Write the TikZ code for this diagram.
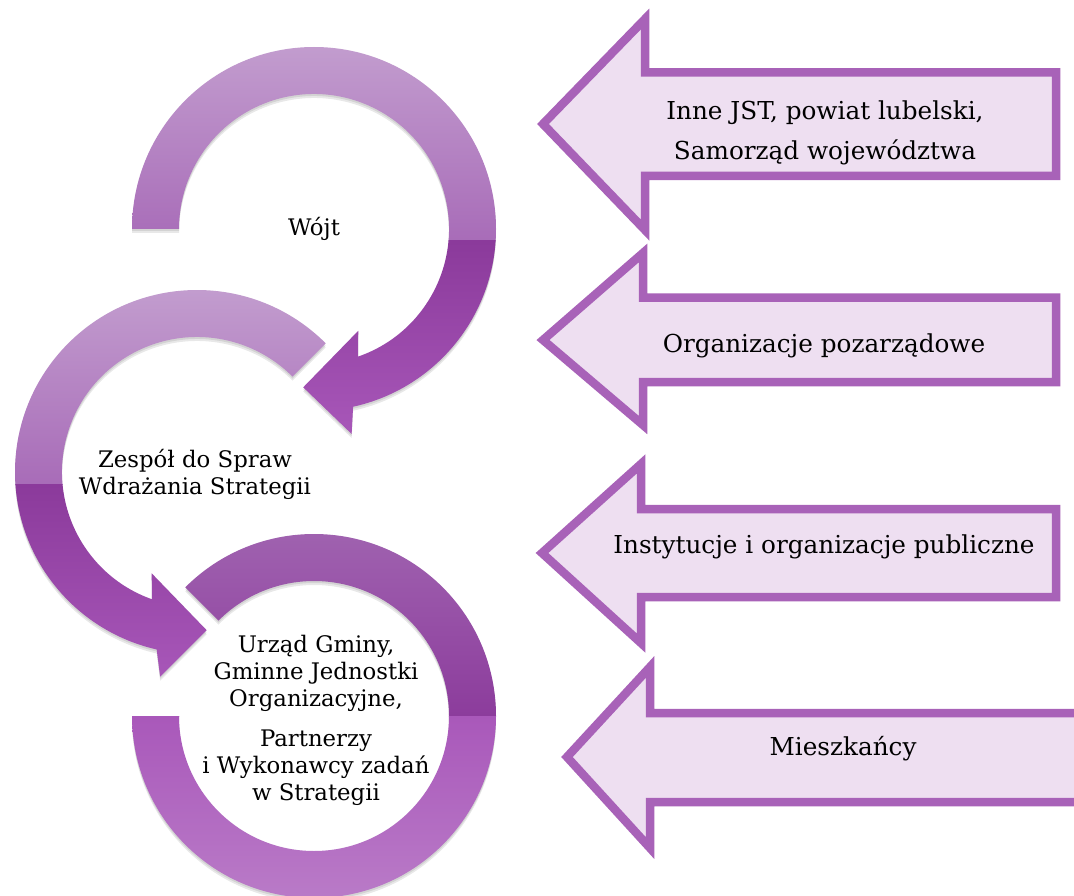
\documentclass[tikz,border=0pt]{standalone}
\usepackage{fontspec}
\setmainfont{DejaVu Serif}
\begin{document}
\begin{tikzpicture}[x=1pt,y=1pt]
\definecolor{topA}{HTML}{C39ECF}
\definecolor{topB}{HTML}{A86CB8}
\definecolor{lowA}{HTML}{8B3A9B}
\definecolor{lowB}{HTML}{A958BA}
\definecolor{botA}{HTML}{A063B0}
\definecolor{botB}{HTML}{8C3C9C}
\definecolor{botC}{HTML}{A958BA}
\definecolor{botD}{HTML}{BA7CC8}
\definecolor{boxfill}{HTML}{EEDFF1}
\definecolor{boxline}{HTML}{A862B8}
\tikzset{
  sidearrow/.style={fill=boxfill, draw=boxline, line width=8.5pt, line join=miter, miter limit=10},
  ringtext/.style={font=\fontsize{22.8}{27}\selectfont, align=center, inner sep=0pt, anchor=base},
  arrowtext/.style={font=\fontsize{24.7}{40}\selectfont, align=center, inner sep=0pt, anchor=base},
  ringshadow/.style={fill=black, opacity=0.09},
}
\useasboundingbox (0,0) rectangle (1074,-896);
\clip (0,0) rectangle (1074,-896);
\fill[white] (0,0) rectangle (1074,-896);

% ring outlines (relative to each ring's centre)
\def\ringtop{(180:182) arc[start angle=180, end angle=-77.6, radius=182] -- (-79.6:208.4) -- (-93.9:158.7) -- (-66.5:111) -- (-70.9:135) arc[start angle=-70.9, end angle=180, radius=135] -- cycle}
\def\ringmid{(45:182) arc[start angle=45, end angle=257.2, radius=182] -- (259.8:208) -- (273.5:158.5) -- (245.9:111) -- (250.5:135) arc[start angle=250.5, end angle=45, radius=135] -- cycle}
\def\ringbot{(135:182) arc[start angle=135, end angle=-180, radius=182] -- (180:135) arc[start angle=-180, end angle=135, radius=135] -- cycle}

% top ring (Wojt)
\begin{scope}[shift={(314,-229)}]
  \fill[ringshadow, shift={(0,-2)}] \ringtop;
  \fill[ringshadow, shift={(0,-4)}] \ringtop;
  \begin{scope}
    \clip \ringtop;
    \shade[top color=topA, bottom color=topB] (-220,190) rectangle (230,-12);
    \shade[top color=lowA, bottom color=lowB] (-220,-12) rectangle (230,-215);
  \end{scope}
\end{scope}

% middle ring
\begin{scope}[shift={(197,-472)}]
  \fill[ringshadow, shift={(0,-2)}] \ringmid;
  \fill[ringshadow, shift={(0,-4)}] \ringmid;
  \begin{scope}
    \clip \ringmid;
    \shade[top color=topA, bottom color=topB] (-220,190) rectangle (230,-12);
    \shade[top color=lowA, bottom color=lowB] (-220,-12) rectangle (230,-215);
  \end{scope}
\end{scope}

% bottom ring
\begin{scope}[shift={(314,-716)}]
  \fill[ringshadow, shift={(0,-2)}] \ringbot;
  \fill[ringshadow, shift={(0,-4)}] \ringbot;
  \begin{scope}
    \clip \ringbot;
    \shade[top color=botA, bottom color=botB] (-220,190) rectangle (230,0);
    \shade[top color=botC, bottom color=botD] (-220,0) rectangle (230,-190);
  \end{scope}
\end{scope}

% ring texts (anchor base = baseline of the last line)
\node[ringtext] (wojt) at (314,-236) {Wójt};
\node[ringtext] (zespol) at (195,-494) {Zespół do Spraw\\Wdrażania Strategii};
\node[ringtext] (urzad) at (316,-800) {Urząd Gminy,\\Gminne Jednostki\\Organizacyjne,\\[13pt]Partnerzy\\i Wykonawcy zadań\\w Strategii};

% side arrows
\draw[sidearrow] (543,-124) -- (645,-19) -- (645,-72.5) -- (1056,-72.5) -- (1056,-176) -- (645,-176) -- (645,-230) -- cycle;
\draw[sidearrow] (543,-340) -- (643,-253) -- (643,-297.5) -- (1056,-297.5) -- (1056,-382) -- (643,-382) -- (643,-425) -- cycle;
\draw[sidearrow] (542,-553) -- (641,-464) -- (641,-509) -- (1056,-509) -- (1056,-597) -- (641,-597) -- (641,-643) -- cycle;
\draw[sidearrow] (567,-757) -- (650,-667) -- (650,-713) -- (1100,-713) -- (1100,-802) -- (650,-802) -- (650,-848) -- cycle;

\node[arrowtext] (inne) at (825,-159.6) {Inne JST, powiat lubelski,\\Samorząd województwa};
\node[arrowtext] (ngo) at (824,-352) {Organizacje pozarządowe};
\node[arrowtext] (inst) at (824,-553.8) {Instytucje i organizacje publiczne};
\node[arrowtext] (miesz) at (843,-755.7) {Mieszkańcy};
\end{tikzpicture}
\end{document}
